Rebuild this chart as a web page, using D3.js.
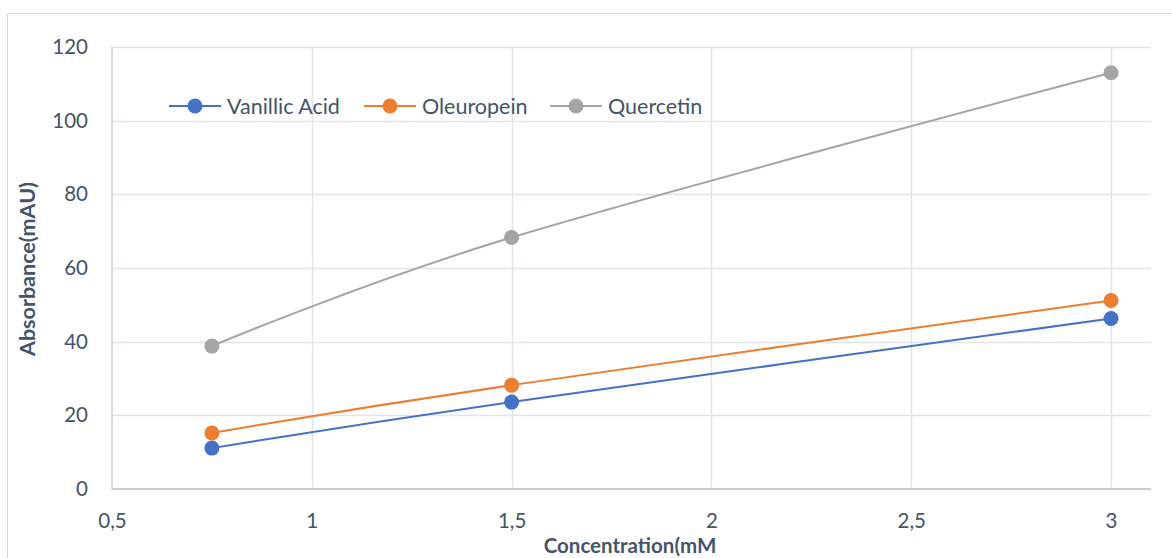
<!DOCTYPE html>
<html>
<head>
<meta charset="utf-8">
<script src="https://cdn.jsdelivr.net/npm/d3@7"></script>
<style>
  body { margin: 0; background: #fff; }
  svg text { font-family: Lato, 'Open Sans', sans-serif; fill: #44546a; }
</style>
</head>
<body>
<svg id="chart" width="1172" height="558"></svg>
<script>
const concentrations = [0.75, 1.5, 3];
const vanillicAcid = [11.1, 23.6, 46.3];
const oleuropein = [15.2, 28.2, 51.2];
const quercetin = [38.8, 68.3, 113.0];
const xTicks = [0.5, 1, 1.5, 2, 2.5, 3];
const yTicks = [0, 20, 40, 60, 80, 100, 120];
const seriesNames = ['Vanillic Acid', 'Oleuropein', 'Quercetin'];
const seriesColors = ['#4472c4', '#ed7d31', '#a5a5a5'];

const width = 1172,
  height = 558,
  margin = { top: 47, right: 21, bottom: 69, left: 112 },
  chartWidth = width - margin.left - margin.right,
  chartHeight = height - margin.top - margin.bottom;

const series = [vanillicAcid, oleuropein, quercetin].map((vals, i) => ({
  name: seriesNames[i],
  color: seriesColors[i],
  values: vals.map((v, j) => ({ x: concentrations[j], y: v })),
}));

const svg = d3.select('#chart');

// outer chart border
svg
  .append('rect')
  .attr('x', 7.5)
  .attr('y', 13.5)
  .attr('width', width)
  .attr('height', height)
  .attr('fill', 'none')
  .attr('stroke', '#d9d9d9');

const g = svg
  .append('g')
  .attr('transform', 'translate(' + margin.left + ',' + margin.top + ')');

const x = d3.scaleLinear().domain([0.5, 3.1]).range([0, chartWidth]);
const y = d3.scaleLinear().domain([0, 120]).range([chartHeight, 0]);

// gridlines
g.append('g')
  .selectAll('line')
  .data(yTicks.filter(d => d > 0))
  .enter()
  .append('line')
  .attr('x1', 0)
  .attr('x2', chartWidth)
  .attr('y1', d => Math.round(y(d)) + 0.5)
  .attr('y2', d => Math.round(y(d)) + 0.5)
  .attr('stroke', '#e1e4ea')
  .attr('stroke-width', 1.5);

g.append('g')
  .selectAll('line')
  .data(xTicks.filter(d => d > 0.5))
  .enter()
  .append('line')
  .attr('x1', d => Math.round(x(d)) + 0.5)
  .attr('x2', d => Math.round(x(d)) + 0.5)
  .attr('y1', 0)
  .attr('y2', chartHeight)
  .attr('stroke', '#e1e4ea')
  .attr('stroke-width', 1.5);

// axes
const xAxis = d3
  .axisBottom(x)
  .tickValues(xTicks)
  .tickSize(0)
  .tickPadding(24)
  .tickFormat(d => String(d).replace('.', ','));

const xAxisLayer = g
  .append('g')
  .attr('transform', 'translate(0,' + chartHeight + ')')
  .call(xAxis);
xAxisLayer.select('.domain').remove();
xAxisLayer
  .append('line')
  .attr('x1', 0)
  .attr('x2', chartWidth)
  .attr('stroke', '#b4bcc9')
  .attr('stroke-width', 1.5);
xAxisLayer.selectAll('text').style('font-size', '20.5px');

const yAxis = d3.axisLeft(y).tickValues(yTicks).tickSize(0).tickPadding(24);
const yAxisLayer = g.append('g').call(yAxis);
yAxisLayer.select('.domain').remove();
yAxisLayer
  .append('line')
  .attr('y1', 0)
  .attr('y2', chartHeight)
  .attr('stroke', '#c8cfd9')
  .attr('stroke-width', 1.5);
yAxisLayer.selectAll('text').style('font-size', '20.5px');

// axis titles
svg
  .append('text')
  .attr('transform', 'rotate(-90)')
  .attr('x', -269)
  .attr('y', 35)
  .style('text-anchor', 'middle')
  .style('font-size', '21.5px')
  .style('font-weight', 'bold')
  .text('Absorbance(mAU)');

svg
  .append('text')
  .attr('x', 630)
  .attr('y', 553)
  .style('text-anchor', 'middle')
  .style('font-size', '20.5px')
  .style('font-weight', 'bold')
  .text('Concentration(mM');

/* lines and markers */
const line = d3
  .line()
  .curve(d3.curveCardinal.tension(0))
  .x(d => x(d.x))
  .y(d => y(d.y));

const lines = g.append('g').attr('class', 'lines');

lines
  .selectAll('path')
  .data(series)
  .enter()
  .append('path')
  .attr('d', d => line(d.values))
  .attr('fill', 'none')
  .attr('stroke', d => d.color)
  .attr('stroke-width', 2);

lines
  .selectAll('.markers')
  .data(series)
  .enter()
  .append('g')
  .attr('fill', d => d.color)
  .selectAll('circle')
  .data(d => d.values)
  .enter()
  .append('circle')
  .attr('cx', d => x(d.x))
  .attr('cy', d => y(d.y))
  .attr('r', 7.5);

// legend
const legendX = [169, 364, 550];
const legend = svg
  .append('g')
  .selectAll('g')
  .data(series)
  .enter()
  .append('g')
  .attr('transform', (d, i) => 'translate(' + legendX[i] + ',106)');

legend
  .append('line')
  .attr('x1', 0)
  .attr('x2', 52)
  .attr('stroke', d => d.color)
  .attr('stroke-width', 2);
legend
  .append('circle')
  .attr('cx', 26)
  .attr('r', 7.5)
  .attr('fill', d => d.color);
legend
  .append('text')
  .attr('x', 58)
  .attr('dy', '0.35em')
  .style('font-size', '21.5px')
  .text(d => d.name);
</script>
</body>
</html>
